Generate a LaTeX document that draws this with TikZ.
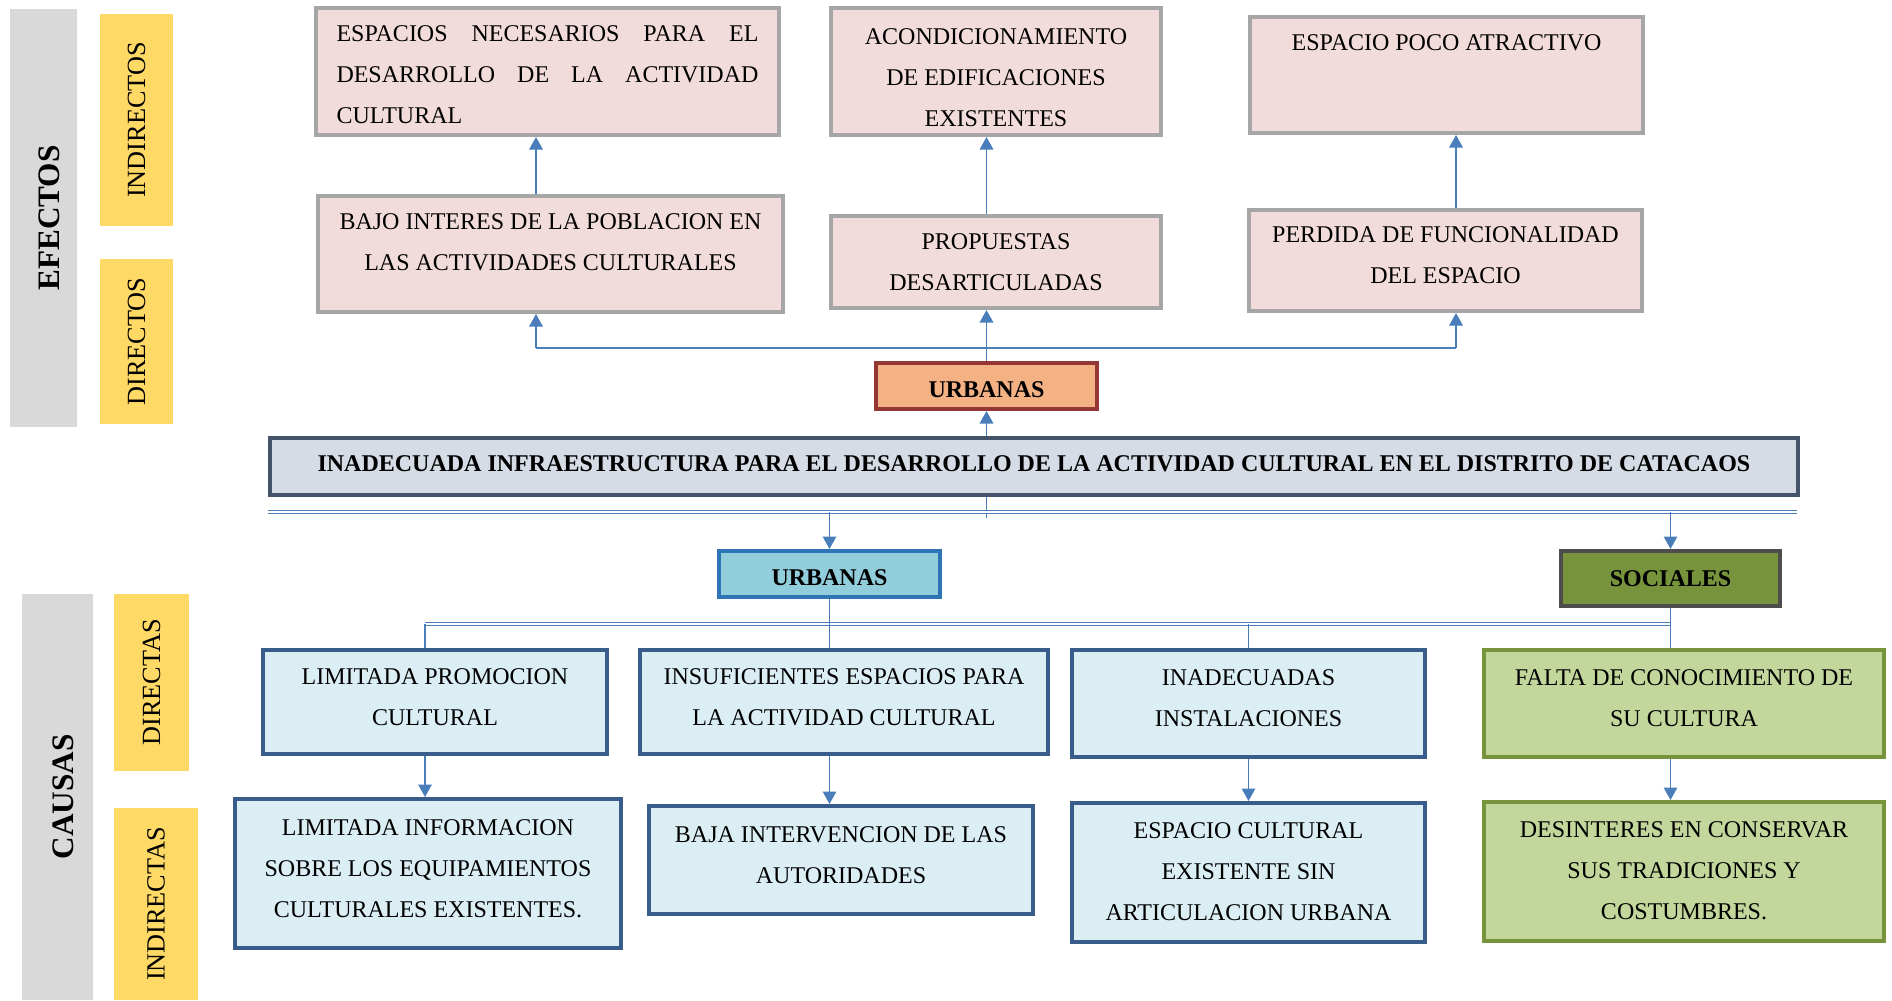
\documentclass[tikz,border=0pt]{standalone}
\usepackage{fontspec}
\setmainfont{Liberation Serif}
\usetikzlibrary{arrows.meta}
\definecolor{effill}{HTML}{F2DCDB}
\definecolor{efdraw}{HTML}{A6A6A6}
\definecolor{mainfill}{HTML}{D6DCE5}
\definecolor{maindraw}{HTML}{44546A}
\definecolor{orfill}{HTML}{F4B183}
\definecolor{ordraw}{HTML}{943634}
\definecolor{ubfill}{HTML}{92CDDC}
\definecolor{ubdraw}{HTML}{2E75B6}
\definecolor{socfill}{HTML}{77933C}
\definecolor{socdraw}{HTML}{4D4D4D}
\definecolor{cafill}{HTML}{DBEEF4}
\definecolor{cadraw}{HTML}{385D8A}
\definecolor{grfill}{HTML}{C3D69B}
\definecolor{grdraw}{HTML}{77933C}
\definecolor{barbg}{HTML}{D9D9D9}
\definecolor{baryel}{HTML}{FFD966}
\definecolor{arblue}{HTML}{4A7EBB}
\tikzset{
  sz/.style 2 args={minimum width=#1*0.4pt, minimum height=#2*0.4pt},
  base/.style   ={rectangle, inner sep=0pt, align=center, line width=1.6pt, text depth=0pt,
                  font=\fontsize{9.6}{16.4}\selectfont},
  effbox/.style ={base, fill=effill, draw=efdraw},
  mainbox/.style={base, fill=mainfill, draw=maindraw, font=\fontsize{9.6}{16.4}\selectfont\bfseries},
  urbbox/.style ={base, fill=orfill, draw=ordraw, text height=9.2pt,
                  font=\fontsize{9.6}{16.4}\selectfont\bfseries},
  ubbox/.style  ={base, fill=ubfill, draw=ubdraw, text height=9.2pt,
                  font=\fontsize{9.6}{16.4}\selectfont\bfseries},
  socbox/.style ={base, fill=socfill, draw=socdraw, font=\fontsize{9.6}{16.4}\selectfont\bfseries},
  cabox/.style  ={base, fill=cafill, draw=cadraw, text depth=4pt},
  grbox/.style  ={base, fill=grfill, draw=grdraw, text depth=4pt},
  graybar/.style={rectangle, fill=barbg, rotate=90, inner sep=0pt, text height=12.4pt, text depth=0pt,
                  font=\fontsize{12.5}{14}\selectfont\bfseries},
  yelbar/.style ={rectangle, fill=baryel, rotate=90, inner sep=0pt,
                  font=\fontsize{10.5}{12}\selectfont},
  ar/.style     ={-{Triangle[length=5pt,width=5.4pt]}, draw=arblue, line width=0.6pt},
  ln/.style     ={draw=arblue, line width=0.6pt},
  dln/.style    ={draw=arblue, line width=0.4pt, double=white, double distance=0.5pt},
}
\begin{document}
\begin{tikzpicture}[x=0.4pt,y=-0.4pt]
\useasboundingbox (0,0) rectangle (1892,1000);
\node[graybar, sz={418}{67}] (efectos) at (43.5,218) {EFECTOS};
\node[yelbar, sz={212}{73}] (efind) at (136.5,120) {INDIRECTOS};
\node[yelbar, sz={165}{73}] (efdir) at (136.5,341.5) {DIRECTOS};
\node[graybar, sz={406}{71}] (causas) at (57.5,797) {CAUSAS};
\node[yelbar, sz={177}{75}] (cadir) at (151.5,682.5) {DIRECTAS};
\node[yelbar, sz={192}{84}] (caind) at (156,904) {INDIRECTAS};

\node[effbox, sz={463}{127}, align=justify, text width=168.8pt, text depth=30pt] (e1) at (547.5,71.5)
  {ESPACIOS NECESARIOS PARA EL\linebreak DESARROLLO DE LA ACTIVIDAD\linebreak CULTURAL};
\node[effbox, sz={330}{127}, text height=44pt] (e2) at (996,71.5) {ACONDICIONAMIENTO\\DE EDIFICACIONES\\EXISTENTES};
\node[effbox, sz={393}{116}, text depth=25.6pt] (e3) at (1446.5,75) {ESPACIO POCO ATRACTIVO};
\node[effbox, sz={465}{116}, text depth=9.2pt] (d1) at (550.5,254) {BAJO INTERES DE LA POBLACION EN\\LAS ACTIVIDADES CULTURALES};
\node[effbox, sz={330}{92}] (d2) at (996,262) {PROPUESTAS\\DESARTICULADAS};
\node[effbox, sz={393}{101}, text depth=4pt] (d3) at (1445.5,260.5) {PERDIDA DE FUNCIONALIDAD\\DEL ESPACIO};

\node[urbbox, sz={221}{46}] (urbE) at (986.5,386) {URBANAS};
\node[mainbox, sz={1528}{57}, text depth=2pt] (main) at (1034,466.5)
  {INADECUADA INFRAESTRUCTURA PARA EL DESARROLLO DE LA ACTIVIDAD CULTURAL EN EL DISTRITO DE CATACAOS};
\node[ubbox, sz={221}{46}] (urbC) at (829.5,574) {URBANAS};
\node[socbox, sz={219}{55}] (soc) at (1670.5,578.5) {SOCIALES};

\node[cabox, sz={344}{104}] (c1) at (435,702) {LIMITADA PROMOCION\\CULTURAL};
\node[cabox, sz={408}{104}] (c2) at (844,702) {INSUFICIENTES ESPACIOS PARA\\LA ACTIVIDAD CULTURAL};
\node[cabox, sz={353}{107}] (c3) at (1248.5,703.5) {INADECUADAS\\INSTALACIONES};
\node[grbox, sz={400}{107}] (c4) at (1684,703.5) {FALTA DE CONOCIMIENTO DE\\SU CULTURA};
\node[cabox, sz={386}{149}] (i1) at (428,873.5) {LIMITADA INFORMACION\\SOBRE LOS EQUIPAMIENTOS\\CULTURALES EXISTENTES.};
\node[cabox, sz={384}{108}] (i2) at (841,860) {BAJA INTERVENCION DE LAS\\AUTORIDADES};
\node[cabox, sz={353}{139}, text depth=1pt] (i3) at (1248.5,872.5) {ESPACIO CULTURAL\\EXISTENTE SIN\\ARTICULACION URBANA};
\node[grbox, sz={400}{139}, text depth=1pt] (i4) at (1684,871.5) {DESINTERES EN CONSERVAR\\SUS TRADICIONES Y\\COSTUMBRES.};

\coordinate (j1) at (536,348);
\coordinate (j2) at (986.5,348);
\coordinate (j3) at (1456,348);
\coordinate (stub) at (986.5,518);
\coordinate (bl) at (268,512);
\coordinate (br) at (1797,512);
\coordinate (cl) at (425,624);

\draw[ar] (j1 |- d1.north) -- (j1 |- e1.south);
\draw[ar] (j2 |- d2.north) -- (j2 |- e2.south);
\draw[ar] (j3 |- d3.north) -- (j3 |- e3.south);
\draw[ln] (j1) -- (j3);
\draw[ln] (urbE.north) -- (j2);
\draw[ar] (j1) -- (j1 |- d1.south);
\draw[ar] (j2) -- (j2 |- d2.south);
\draw[ar] (j3) -- (j3 |- d3.south);
\draw[ar] (main.north -| urbE) -- (urbE.south);

\draw[ln] (main.south -| urbE) -- (stub);
\draw[dln] (bl) -- (br);
\draw[ar] (bl -| urbC) -- (urbC.north);
\draw[ar] (bl -| soc) -- (soc.north);

\draw[dln] (cl) -- (cl -| soc);
\draw[ln] (urbC.south) -- (urbC.south |- c2.north);
\draw[ln] (soc.south) -- (soc.south |- c4.north);
\draw[ln] (cl) -- (cl |- c1.north);
\draw[ln] (c3.north |- cl) -- (c3.north);
\draw[ar] (cl |- c1.south) -- (cl |- i1.north);
\draw[ar] (urbC |- c2.south) -- (urbC |- i2.north);
\draw[ar] (c3.south) -- (i3.north);
\draw[ar] (soc |- c4.south) -- (soc |- i4.north);
\end{tikzpicture}
\end{document}
